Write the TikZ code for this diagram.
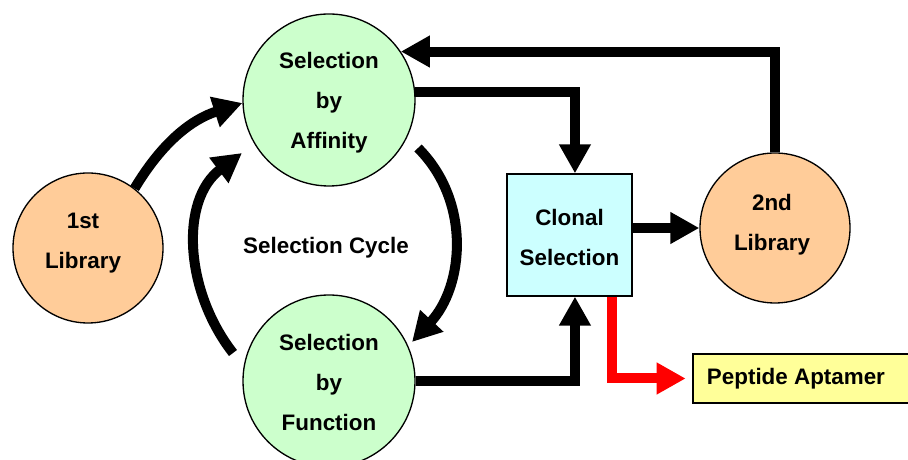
\documentclass[tikz,border=0pt]{standalone}
\usepackage{fontspec}
\setmainfont{Liberation Sans}
\usetikzlibrary{arrows.meta}
\definecolor{selgreen}{HTML}{CCFFCC}
\definecolor{liborange}{HTML}{FFCC99}
\definecolor{clonecyan}{HTML}{CCFFFF}
\definecolor{outyellow}{HTML}{FFFF99}
\definecolor{outred}{HTML}{FF0000}
\begin{document}
\begin{tikzpicture}[x=0.75pt,y=0.75pt,
  txt/.style={font=\fontsize{16.8pt}{30pt}\selectfont\bfseries, align=center},
  stage/.style={circle, draw, line width=1pt, fill=selgreen, minimum size=129pt, inner sep=0pt},
  library/.style={circle, draw, line width=1pt, fill=liborange, minimum size=112.5pt, inner sep=0pt},
  flow/.style={line width=7.5pt, -{Triangle[width=22.5pt,length=21.75pt]}},
]
\useasboundingbox (0,0) rectangle (908,460);

% selection stages
\node[stage, label={[txt, shift={(0pt,-2.25pt)}]center:Selection\\by\\Affinity}] (aff) at (329,360) {};
\node[stage, label={[txt, shift={(0pt,-0.75pt)}]center:Selection\\by\\Function}] (fun) at (329,79) {};

% libraries
\node[library, label={[txt, shift={(-3.75pt,3.5pt)}]center:1st\\Library}] (lib1) at (88,212) {};
\node[library, label={[txt, shift={(-2.25pt,2.5pt)}]center:2nd\\Library}] (lib2) at (775,232) {};

% clonal selection and output
\node[draw, line width=1pt, fill=clonecyan, minimum width=93.75pt, minimum height=91.5pt, inner sep=0pt,
      label={[txt, shift={(0pt,-1.5pt)}]center:Clonal\\Selection}] (clonal) at (569.5,225) {};
\node[draw, line width=1pt, fill=outyellow, minimum width=170.25pt, minimum height=36.75pt, inner sep=0pt,
      label={[txt, shift={(-7.9pt,-0.5pt)}]center:Peptide Aptamer}] (pep) at (806.5,81.5) {};

% cycle label and arc end points
\node[txt] (cycle) at (326,212.5) {Selection Cycle};
\coordinate (cycLs) at (233,107);
\coordinate (cycLe) at (242,307);
\coordinate (cycRs) at (418,312);
\coordinate (cycRe) at (412,118);

% connectors
\draw[flow] (lib1.52) to[out=59, in=198] (aff.182);
\draw[flow] (cycLs) to[out=128, in=217] (cycLe);
\draw[flow] (cycRs) to[out=-45, in=47] (cycRe);
\draw[flow] (aff.5) -| ([xshift=4.1pt]clonal.north);
\draw[flow] (fun.east) -| ([xshift=4.1pt]clonal.south);
\draw[flow] (clonal.east |- lib2.west) -- (lib2.west);
\draw[flow] (lib2.north) |- (aff.34);
\draw[flow, color=outred, shorten >=5pt] ([xshift=-15.75pt]clonal.south east) |- (pep.west);
\end{tikzpicture}
\end{document}
